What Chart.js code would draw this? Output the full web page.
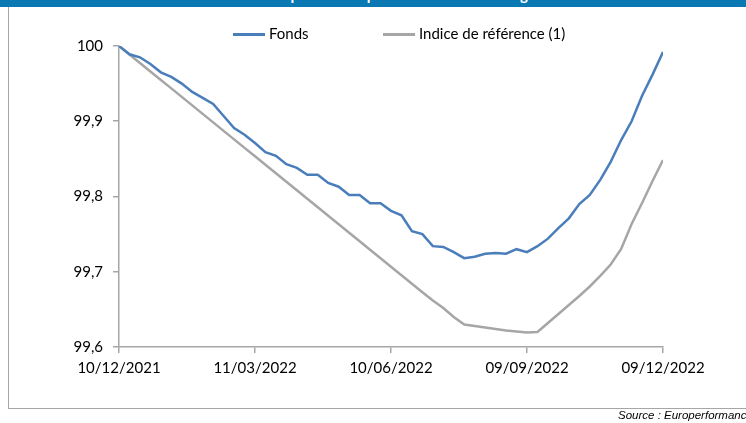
<!DOCTYPE html>
<html>
<head>
<meta charset="utf-8">
<script src="https://cdn.jsdelivr.net/npm/chart.js@4.4.1/dist/chart.umd.min.js"></script>
<style>
  body { margin: 0; background: #fff; width: 746px; height: 423px; overflow: hidden; position: relative; font-family: Lato, sans-serif; }
  .titlebar { position: absolute; left: 0; top: 0; width: 746px; height: 7px; background: #0a78b2; overflow: hidden; }
  .titlebar span { position: absolute; left: 195px; top: -13px; font: bold 15px Lato, sans-serif; line-height: 15px; color: #fff; white-space: nowrap; }
  .frame { position: absolute; left: 8px; top: 7px; width: 760px; height: 401px; border-left: 1.5px solid #a6a6a6; border-bottom: 1.5px solid #a6a6a6; }
  .legend { position: absolute; top: 24px; font: 15px Lato, sans-serif; color: #000; }
  .legend i { display: inline-block; width: 32px; height: 3px; vertical-align: middle; margin-right: 4px; position: relative; top: -1px; }
  .source { position: absolute; left: 618px; top: 409px; font: italic 11.5px "Liberation Sans", Arial, sans-serif; white-space: nowrap; color: #000; }
  canvas { position: absolute; left: 0; top: 0; }
</style>
</head>
<body>
<div class="titlebar"><span>Évolution comparée de la performance sur un an glissant</span></div>
<div class="frame"></div>
<canvas id="myChart"></canvas>
<div class="legend" style="left:233px"><i style="background:#4a7ebb"></i>Fonds</div>
<div class="legend" style="left:383px"><i style="background:#a6a6a6"></i>Indice de référence (1)</div>
<div class="source">Source : Europerformance</div>
<script>
// tick labels, one every 13 weeks
const tickLabels = ['10/12/2021', '11/03/2022', '10/06/2022', '09/09/2022', '09/12/2022']

// weekly values, 53 points
const fonds = [100, 99.989, 99.985, 99.976, 99.965, 99.959, 99.950, 99.939, 99.931, 99.923,
    99.907, 99.891, 99.882, 99.871, 99.859, 99.854, 99.843, 99.838, 99.829, 99.829,
    99.818, 99.813, 99.802, 99.802, 99.791, 99.791, 99.781, 99.775, 99.754, 99.750,
    99.734, 99.733, 99.726, 99.718, 99.720, 99.724, 99.725, 99.724, 99.730, 99.726,
    99.734, 99.744, 99.758, 99.771, 99.790, 99.802, 99.822, 99.846, 99.875, 99.900,
    99.934, 99.962, 99.992]

const indice = [100, 99.9887, 99.9774, 99.9661, 99.9548, 99.9437, 99.9324, 99.9211, 99.9098, 99.8985,
    99.8872, 99.8759, 99.8646, 99.8534, 99.8421, 99.8308, 99.8195, 99.8082, 99.7969, 99.7856,
    99.7743, 99.7632, 99.7519, 99.7406, 99.7293, 99.7180, 99.7067, 99.6954, 99.6841, 99.6728,
    99.6617, 99.6518, 99.6399, 99.6299, 99.6279, 99.6259, 99.6239, 99.6219, 99.6206, 99.6193,
    99.6199, 99.6319, 99.6439, 99.6558, 99.6678, 99.6804, 99.6944, 99.7096, 99.7302, 99.7635,
    99.7914, 99.8206, 99.8485]

const axisGray = '#a6a6a6'
let chartCanvas = document.getElementById('myChart')
chartCanvas.width = 746
chartCanvas.height = 423
let ctx = chartCanvas.getContext('2d')

new Chart(ctx, {
    type: 'line',
    data: {
        datasets: [{
            label: 'Fonds',
            data: fonds.map((v, i) => ({ x: i, y: v })),
            borderColor: '#4a7ebb',
            borderWidth: 2.5,
            pointRadius: 0,
            fill: false
        }, {
            label: 'Indice de référence (1)',
            data: indice.map((v, i) => ({ x: i, y: v })),
            borderColor: axisGray,
            borderWidth: 2.5,
            pointRadius: 0,
            fill: false
        }]
    },
    options: {
        responsive: false,
        animation: false,
        layout: { padding: { left: 10, top: 46, right: 83, bottom: 10 } },
        plugins: { legend: { display: false }, tooltip: { enabled: false } },
        scales: {
            x: {
                type: 'linear',
                min: 0,
                max: 52,
                afterFit: (scale) => { scale.height = 66 },
                ticks: {
                    stepSize: 13,
                    autoSkip: false,
                    maxRotation: 0,
                    padding: 6,
                    color: '#000',
                    font: { family: 'Lato', size: 15 },
                    callback: (v) => tickLabels[v / 13]
                },
                grid: { drawOnChartArea: false, color: axisGray, tickLength: 6, lineWidth: 1.5 },
                border: { color: axisGray, width: 1.5 }
            },
            y: {
                min: 99.6,
                max: 100,
                afterFit: (scale) => { scale.width = 109 },
                ticks: {
                    stepSize: 0.1,
                    padding: 10,
                    color: '#000',
                    font: { family: 'Lato', size: 15 },
                    callback: (v) => v >= 100 ? '100' : v.toFixed(1).replace('.', ',')
                },
                grid: { drawOnChartArea: false, color: axisGray, tickLength: 6, lineWidth: 1.5 },
                border: { color: axisGray, width: 1.5 }
            }
        }
    }
})
</script>
</body>
</html>
